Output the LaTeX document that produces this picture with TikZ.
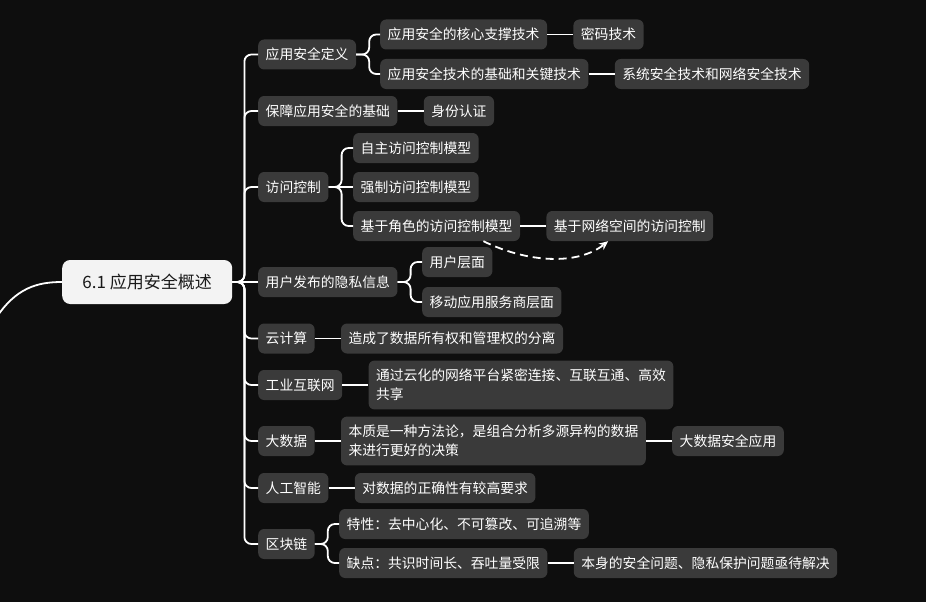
\documentclass[tikz,border=0pt]{standalone}
\usepackage{fontspec}
\setmainfont{Noto Sans CJK SC}
\usetikzlibrary{arrows.meta,positioning}
\definecolor{bgdark}{HTML}{0E0E0E}
\definecolor{boxgray}{HTML}{3A3A3A}
\definecolor{rootfill}{HTML}{F3F3F3}
\begin{document}
\begin{tikzpicture}[
  x=1pt, y=-1pt,
  >=Stealth,
  node distance=26pt,
  every node/.style={font=\fontsize{13.8}{19}\selectfont, text=white},
  topic/.style={fill=boxgray, rounded corners=6pt, inner xsep=7.5pt, inner ysep=8.5pt, minimum height=30pt, align=left},
  root/.style={fill=rootfill, rounded corners=8pt, text=black!90, font=\fontsize{17}{20}\selectfont, minimum width=170pt, minimum height=44pt},
  link/.style={draw=white, line width=1.8pt, rounded corners=7pt}
]
\fill[bgdark] (0,0) rectangle (926,602);
\useasboundingbox (0,0) rectangle (926,602);

\node[root, anchor=west] (root) at (62,282) {6.1 应用安全概述};
\coordinate (feed) at (-4,318);

\node[topic, anchor=west] (def) at (258,54.5) {应用安全定义};
\node[topic, anchor=west] (base) at (258,111) {保障应用安全的基础};
\node[topic, anchor=west] (acc) at (258,187) {访问控制};
\node[topic, anchor=west] (priv) at (258,282) {用户发布的隐私信息};
\node[topic, anchor=west] (cloud) at (258,338.5) {云计算};
\node[topic, anchor=west] (iiot) at (258,385) {工业互联网};
\node[topic, anchor=west] (big) at (258,441) {大数据};
\node[topic, anchor=west] (ai) at (258,488) {人工智能};
\node[topic, anchor=west] (chain) at (258,544) {区块链};

\node[topic, anchor=west] (core) at (380,34.5) {应用安全的核心支撑技术};
\node[topic, right=of core] (crypto) {密码技术};
\node[topic, anchor=west] (key) at (380,74) {应用安全技术的基础和关键技术};
\node[topic, right=of key] (sysnet) {系统安全技术和网络安全技术};
\node[topic, right=of base] (auth) {身份认证};

\node[topic, anchor=west] (dac) at (353,148) {自主访问控制模型};
\node[topic, anchor=west] (mac) at (353,187) {强制访问控制模型};
\node[topic, anchor=west] (rbac) at (353,226) {基于角色的访问控制模型};
\node[topic, right=of rbac] (cbac) {基于网络空间的访问控制};

\node[topic, anchor=west] (user) at (422,262) {用户层面};
\node[topic, anchor=west] (mobile) at (422,302) {移动应用服务商层面};

\node[topic, right=of cloud] (split) {造成了数据所有权和管理权的分离};
\node[topic, right=of iiot] (share) {通过云化的网络平台紧密连接、互联互通、高效\\共享};
\node[topic, right=of big] (method) {本质是一种方法论，是组合分析多源异构的数据\\来进行更好的决策};
\node[topic, right=of method] (bigsec) {大数据安全应用};
\node[topic, right=of ai] (exact) {对数据的正确性有较高要求};

\node[topic, anchor=west] (feat) at (339,524) {特性：去中心化、不可篡改、可追溯等};
\node[topic, anchor=west] (flaw) at (339,563) {缺点：共识时间长、吞吐量受限};
\node[topic, right=of flaw] (issue) {本身的安全问题、隐私保护问题亟待解决};

\draw[link] (feed) .. controls +(20,-30) and +(-25,0) .. (root.west);
\foreach \c in {def,base,acc,cloud,iiot,big,ai,chain}
  \draw[link] (root.east) -- ++(12,0) |- (\c.west);
\draw[link] (root) -- (priv);

\foreach \c in {core,key}
  \draw[link] (def.east) -- ++(13,0) |- (\c.west);
\foreach \c in {dac,rbac}
  \draw[link] (acc.east) -- ++(13,0) |- (\c.west);
\draw[link] (acc) -- (mac);
\foreach \c in {user,mobile}
  \draw[link] (priv.east) -- ++(13,0) |- (\c.west);
\foreach \c in {feat,flaw}
  \draw[link] (chain.east) -- ++(13,0) |- (\c.west);

\draw[link] (core) -- (crypto);
\draw[link] (key) -- (sysnet);
\draw[link] (base) -- (auth);
\draw[link] (rbac) -- (cbac);
\draw[link] (cloud) -- (split);
\draw[link] (iiot) -- (share);
\draw[link] (big) -- (method);
\draw[link] (method) -- (bigsec);
\draw[link] (ai) -- (exact);
\draw[link] (flaw) -- (issue);

\draw[link, dash pattern=on 8pt off 5pt, -{Stealth[length=9pt,width=8pt]}] (rbac.-18) .. controls +(45,22) and +(-30,24) .. (cbac.-145);
\end{tikzpicture}
\end{document}
